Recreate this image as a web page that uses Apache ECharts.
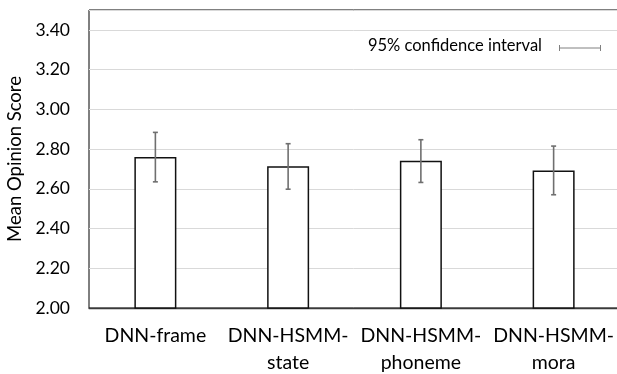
<!DOCTYPE html>
<html>
<head>
<meta charset="utf-8">
<script src="https://cdn.jsdelivr.net/npm/echarts@6/dist/echarts.min.js"></script>
<style>
html,body{margin:0;padding:0;background:#fff;}
#chart{width:617px;height:374px;}
</style>
</head>
<body>
<div id="chart"></div>
<script>
const categories = ['DNN-frame', 'DNN-HSMM-\nstate', 'DNN-HSMM-\nphoneme', 'DNN-HSMM-\nmora'];
const meanScores = [2.76, 2.713, 2.741, 2.692];
const ciLower = [2.635, 2.598, 2.632, 2.570];
const ciUpper = [2.884, 2.827, 2.847, 2.815];
const yTicks = { min: 2.0, max: 3.5, interval: 0.2 };
const yAxisTitle = 'Mean Opinion Score';
const legendText = '95% confidence interval';

const FONT = 'Lato';
const chart = echarts.init(document.getElementById('chart'), null, { renderer: 'canvas' });

const errData = categories.map((c, i) => [i, ciLower[i], ciUpper[i]]);

chart.setOption({
  animation: false,
  backgroundColor: '#fff',
  textStyle: { fontFamily: FONT },
  grid: {
    left: 89, top: 10, width: 531, bottom: 66,
    outerBoundsMode: 'none', containLabel: false,
    show: true, borderColor: '#000', borderWidth: 1, backgroundColor: 'transparent'
  },
  xAxis: {
    type: 'category',
    data: categories,
    axisTick: { show: false },
    axisLine: { lineStyle: { color: '#3a3a3a', width: 1.3 } },
    axisLabel: {
      interval: 0, fontFamily: FONT, fontSize: 19.5, lineHeight: 27,
      color: '#000', margin: 14
    }
  },
  yAxis: {
    type: 'value',
    min: yTicks.min, max: yTicks.max, interval: yTicks.interval,
    axisLine: { show: false },
    axisTick: { show: false },
    axisLabel: {
      fontFamily: FONT, fontSize: 17.5, color: '#000', margin: 19,
      showMaxLabel: false,
      formatter: v => v.toFixed(2)
    },
    splitLine: { lineStyle: { color: '#d9d9d9', width: 1 } },
    name: yAxisTitle,
    nameLocation: 'middle',
    nameGap: 57,
    nameTextStyle: { fontFamily: FONT, fontSize: 18.5, color: '#000' }
  },
  series: [
    {
      type: 'bar',
      data: meanScores,
      barWidth: 42,
      itemStyle: { color: '#fff', borderColor: '#111', borderWidth: 1.5 },
      z: 2
    },
    {
      type: 'custom',
      data: errData,
      encode: { x: 0, y: [1, 2] },
      z: 3,
      renderItem: function (params, api) {
        const i = api.value(0);
        const lo = api.coord([i, api.value(1)]);
        const hi = api.coord([i, api.value(2)]);
        const hw = 2.5;
        const style = { stroke: '#6f6f6f', lineWidth: 1.6 };
        return {
          type: 'group',
          children: [
            { type: 'line', shape: { x1: hi[0], y1: hi[1], x2: lo[0], y2: lo[1] }, style },
            { type: 'line', shape: { x1: hi[0] - hw, y1: hi[1], x2: hi[0] + hw, y2: hi[1] }, style },
            { type: 'line', shape: { x1: lo[0] - hw, y1: lo[1], x2: lo[0] + hw, y2: lo[1] }, style }
          ]
        };
      }
    }
  ],
  graphic: [
    {
      type: 'text', right: 75, top: 37,
      style: { text: legendText, font: '16.5px ' + FONT, fill: '#000' }
    },
    { type: 'line', shape: { x1: 559, y1: 48, x2: 601, y2: 48 }, style: { stroke: '#808080', lineWidth: 1 } },
    { type: 'line', shape: { x1: 559.5, y1: 45, x2: 559.5, y2: 51 }, style: { stroke: '#808080', lineWidth: 1 } },
    { type: 'line', shape: { x1: 600.5, y1: 45, x2: 600.5, y2: 51 }, style: { stroke: '#808080', lineWidth: 1 } }
  ]
});
</script>
</body>
</html>
